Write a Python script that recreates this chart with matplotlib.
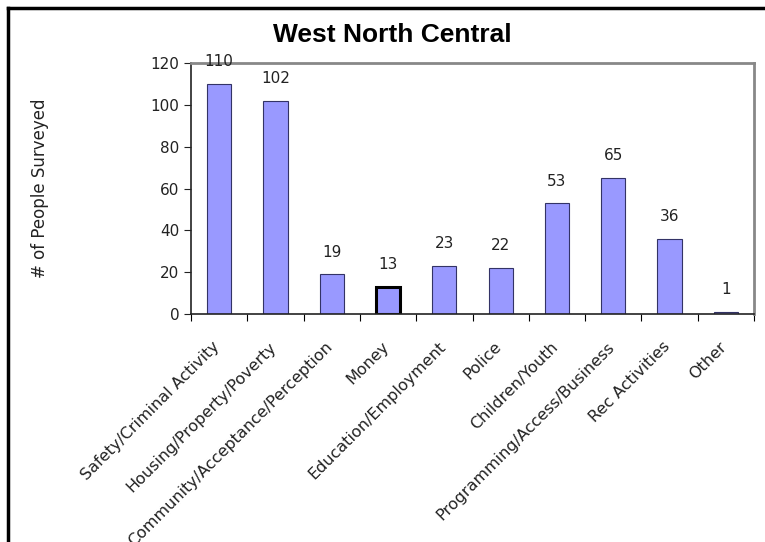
import matplotlib
matplotlib.use("Agg")
import matplotlib.pyplot as plt
from matplotlib.lines import Line2D

categories = [
    "Safety/Criminal Activity",
    "Housing/Property/Poverty",
    "Community/Acceptance/Perception",
    "Money",
    "Education/Employment",
    "Police",
    "Children/Youth",
    "Programming/Access/Business",
    "Rec Activities",
    "Other",
]
counts = [110, 102, 19, 13, 23, 22, 53, 65, 36, 1]
highlight = "Money"

fig = plt.figure(figsize=(7.65, 5.42), dpi=100)
ax = fig.add_axes([191 / 765, 1 - 314 / 542, (754 - 191) / 765, (314 - 63) / 542])

x = list(range(len(categories)))
edges = ["black" if c == highlight else "#333366" for c in categories]
widths = [2.2 if c == highlight else 0.8 for c in categories]
bars = ax.bar(x, counts, width=0.43, color="#9999ff", edgecolor=edges, linewidth=widths)

for xi, v in zip(x, counts):
    ax.text(xi, v + 7, str(v), ha="center", va="bottom", fontsize=11, color="#222222")

ax.set_xlim(-0.5, len(categories) - 0.5)
ax.set_ylim(0, 120)
ax.set_yticks(range(0, 121, 20))
ax.tick_params(axis="y", labelsize=11, length=5, colors="#222222")
ax.set_xticks([i - 0.5 for i in range(len(categories) + 1)], minor=False)
ax.set_xticklabels([])
ax.tick_params(axis="x", length=5, direction="out")
for xi, c in zip(x, categories):
    ax.text(xi - 0.12, -12, c, rotation=45, ha="right", va="top", fontsize=11.5,
            color="#222222", rotation_mode="anchor", clip_on=False)

ax.spines["top"].set_color("#888888")
ax.spines["right"].set_color("#888888")
ax.spines["top"].set_linewidth(2)
ax.spines["right"].set_linewidth(2)
ax.spines["left"].set_color("#222222")
ax.spines["bottom"].set_color("#222222")
ax.spines["left"].set_linewidth(1.2)
ax.spines["bottom"].set_linewidth(1.2)

ax.set_ylabel("# of People Surveyed", fontsize=12, color="#222222")
ax.yaxis.set_label_coords(-142 / 563, 0.5)

fig.text(392 / 765, 1 - 35 / 542, "West North Central", ha="center", va="center",
         fontsize=19, fontweight="bold", family="Liberation Sans")

# outer frame lines (top and left)
fig.add_artist(Line2D([8 / 765, 1], [1 - 8 / 542, 1 - 8 / 542], color="black", lw=2.5,
                      transform=fig.transFigure))
fig.add_artist(Line2D([8 / 765, 8 / 765], [0, 1 - 8 / 542], color="black", lw=2.5,
                      transform=fig.transFigure))

fig.savefig("out.png", dpi=100)
